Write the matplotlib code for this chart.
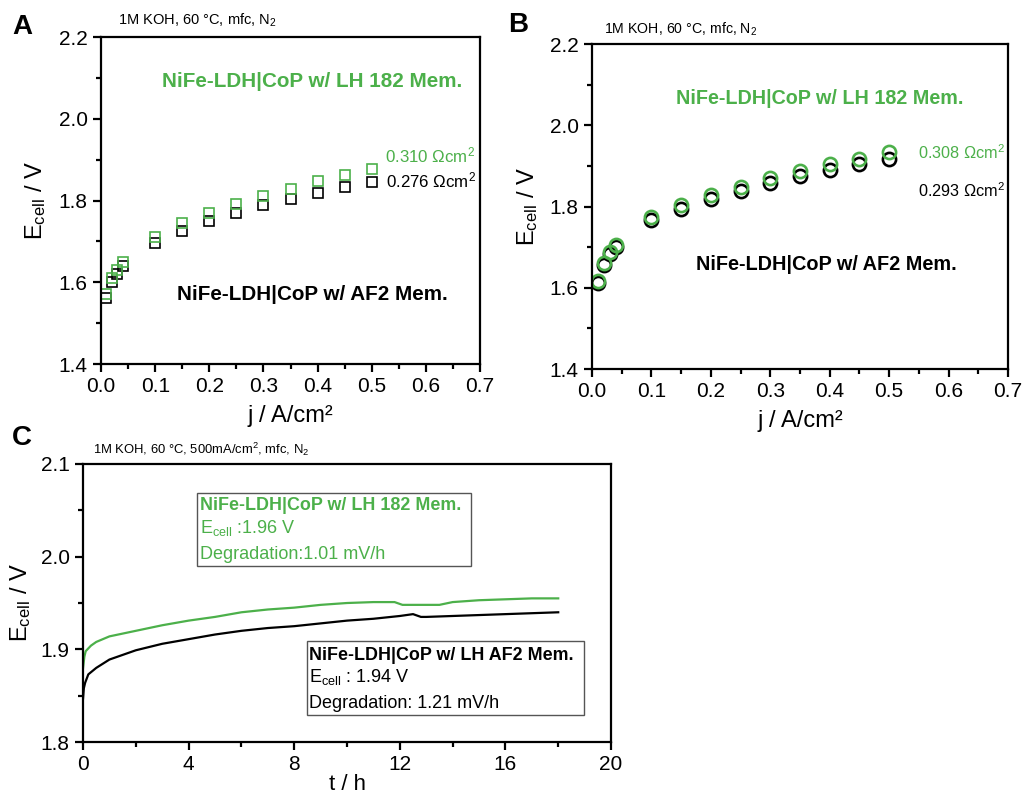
import matplotlib
matplotlib.use('Agg')
import matplotlib.pyplot as plt
from matplotlib.patches import Rectangle
from matplotlib.ticker import MultipleLocator

plt.rcParams['font.family'] = ['Liberation Sans', 'DejaVu Sans']
plt.rcParams['mathtext.fontset'] = 'custom'
plt.rcParams['mathtext.rm'] = 'Liberation Sans'
plt.rcParams['mathtext.it'] = 'Liberation Sans:italic'
plt.rcParams['mathtext.bf'] = 'Liberation Sans:bold'

GREEN = '#4CB04A'

# polarisation curves (panel A, square markers)
j_a = [0.01, 0.02, 0.03, 0.04, 0.1, 0.15, 0.2, 0.25, 0.3, 0.35, 0.4, 0.45, 0.5]
e_a_lh182 = [1.571, 1.611, 1.631, 1.649, 1.711, 1.744, 1.769, 1.792, 1.812, 1.829, 1.847, 1.862, 1.876]
e_a_af2 = [1.561, 1.600, 1.621, 1.640, 1.696, 1.726, 1.749, 1.769, 1.788, 1.804, 1.818, 1.832, 1.845]

# polarisation curves (panel B, circle markers)
j_b = [0.01, 0.02, 0.03, 0.04, 0.1, 0.15, 0.2, 0.25, 0.3, 0.35, 0.4, 0.45, 0.5]
e_b_lh182 = [1.617, 1.662, 1.687, 1.706, 1.773, 1.803, 1.828, 1.849, 1.869, 1.888, 1.904, 1.918, 1.933]
e_b_af2 = [1.612, 1.657, 1.682, 1.700, 1.766, 1.795, 1.818, 1.839, 1.858, 1.876, 1.891, 1.905, 1.918]

# stability test (panel C)
t_lh182 = [0, 0.05, 0.1, 0.3, 0.5, 1, 2, 3, 4, 5, 6, 7, 8, 9, 10, 11, 11.8, 12.1, 12.5, 13, 13.5, 14, 15, 16, 17, 18]
e_lh182 = [1.880, 1.892, 1.898, 1.904, 1.908, 1.914, 1.920, 1.926, 1.931, 1.935, 1.940, 1.943, 1.945,
           1.948, 1.950, 1.951, 1.951, 1.948, 1.948, 1.948, 1.948, 1.951, 1.953, 1.954, 1.955, 1.955]
t_af2 = [0, 0.03, 0.08, 0.2, 0.5, 1, 2, 3, 4, 5, 6, 7, 8, 9, 10, 11, 12, 12.5, 12.8, 13, 14, 15, 16, 17, 18]
e_af2 = [1.847, 1.858, 1.864, 1.873, 1.880, 1.889, 1.899, 1.906, 1.911, 1.916, 1.920, 1.923, 1.925,
         1.928, 1.931, 1.933, 1.936, 1.938, 1.935, 1.935, 1.936, 1.937, 1.938, 1.939, 1.940]


def style_axes(ax):
    for s in ax.spines.values():
        s.set_linewidth(1.6)
    ax.tick_params(which='both', direction='out', top=False, right=False, labelsize=15, width=1.6)
    ax.tick_params(which='major', length=6)
    ax.tick_params(which='minor', length=3.5)


fig = plt.figure(figsize=(10.29, 7.96), dpi=100)

# ---- A ----
axA = fig.add_axes([0.0982, 0.5427, 0.3683, 0.4108])
axA.plot(j_a, e_a_af2, 's', mfc='none', mec='black', ms=7.8, mew=1.2)
axA.plot(j_a, e_a_lh182, 's', mfc='none', mec=GREEN, ms=7.8, mew=1.2)
axA.set_xlim(0, 0.7)
axA.set_ylim(1.4, 2.2)
axA.xaxis.set_major_locator(MultipleLocator(0.1))
axA.xaxis.set_minor_locator(MultipleLocator(0.05))
axA.yaxis.set_major_locator(MultipleLocator(0.2))
axA.yaxis.set_minor_locator(MultipleLocator(0.1))
axA.xaxis.set_major_formatter(plt.FormatStrFormatter('%.1f'))
axA.yaxis.set_major_formatter(plt.FormatStrFormatter('%.1f'))
style_axes(axA)
axA.set_xlabel('j / A/cm²', fontsize=17, labelpad=6)
axA.set_ylabel(r'E$_{\mathrm{cell}}$ / V', fontsize=17, labelpad=8)
axA.text(0.113, 2.090, 'NiFe-LDH|CoP w/ LH 182 Mem.', color=GREEN, fontsize=14.9, fontweight='bold', va='center')
axA.text(0.524, 1.911, r'0.310 $\Omega$cm$^2$', color=GREEN, fontsize=12.2, va='center')
axA.text(0.526, 1.848, r'0.276 $\Omega$cm$^2$', color='black', fontsize=12.2, va='center')
axA.text(0.140, 1.569, 'NiFe-LDH|CoP w/ AF2 Mem.', color='black', fontsize=14.9, fontweight='bold', va='center')
axA.text(0.045, 1.025, r'1M KOH, 60 °C, mfc, N$_2$', transform=axA.transAxes, fontsize=10.5, va='bottom')
fig.text(0.012, 0.966, 'A', fontsize=20, fontweight='bold', va='center')

# ---- B ----
axB = fig.add_axes([0.5753, 0.5364, 0.4043, 0.4083])
axB.plot(j_b, e_b_af2, 'o', mfc='none', mec='black', ms=9.5, mew=1.9)
axB.plot(j_b, e_b_lh182, 'o', mfc='none', mec=GREEN, ms=9.5, mew=1.9)
axB.set_xlim(0, 0.7)
axB.set_ylim(1.4, 2.2)
axB.xaxis.set_major_locator(MultipleLocator(0.1))
axB.xaxis.set_minor_locator(MultipleLocator(0.05))
axB.yaxis.set_major_locator(MultipleLocator(0.2))
axB.yaxis.set_minor_locator(MultipleLocator(0.1))
axB.xaxis.set_major_formatter(plt.FormatStrFormatter('%.1f'))
axB.yaxis.set_major_formatter(plt.FormatStrFormatter('%.1f'))
style_axes(axB)
axB.set_xlabel('j / A/cm²', fontsize=17, labelpad=6)
axB.set_ylabel(r'E$_{\mathrm{cell}}$ / V', fontsize=17, labelpad=7)
axB.text(0.141, 2.067, 'NiFe-LDH|CoP w/ LH 182 Mem.', color=GREEN, fontsize=14.2, fontweight='bold', va='center')
axB.text(0.549, 1.932, r'0.308 $\Omega$cm$^2$', color=GREEN, fontsize=11.7, va='center')
axB.text(0.549, 1.839, r'0.293 $\Omega$cm$^2$', color='black', fontsize=11.7, va='center')
axB.text(0.175, 1.658, 'NiFe-LDH|CoP w/ AF2 Mem.', color='black', fontsize=14.3, fontweight='bold', va='center')
axB.text(0.03, 1.02, r'1M KOH, 60 °C, mfc, N$_2$', transform=axB.transAxes, fontsize=10.2, va='bottom')
fig.text(0.494, 0.969, 'B', fontsize=20, fontweight='bold', va='center')

# ---- C ----
axC = fig.add_axes([0.0807, 0.0678, 0.5131, 0.3493])
axC.plot(t_af2, e_af2, color='black', lw=1.6)
axC.plot(t_lh182, e_lh182, color=GREEN, lw=1.6)
axC.set_xlim(0, 20)
axC.set_ylim(1.8, 2.1)
axC.xaxis.set_major_locator(MultipleLocator(4))
axC.xaxis.set_minor_locator(MultipleLocator(2))
axC.yaxis.set_major_locator(MultipleLocator(0.1))
axC.yaxis.set_minor_locator(MultipleLocator(0.05))
axC.yaxis.set_major_formatter(plt.FormatStrFormatter('%.1f'))
style_axes(axC)
axC.set_xlabel('t / h', fontsize=16, labelpad=0)
axC.set_ylabel(r'E$_{\mathrm{cell}}$ / V', fontsize=17, labelpad=6)
axC.text(0.019, 1.02, r'1M KOH, 60 °C, 500mA/cm$^2$, mfc, N$_2$', transform=axC.transAxes, fontsize=9.4, va='bottom')
fig.text(0.012, 0.450, 'C', fontsize=20, fontweight='bold', va='center')

axC.add_patch(Rectangle((0.216, 0.633), 0.519, 0.263, transform=axC.transAxes,
                        fill=False, ec='#555555', lw=1))
axC.text(0.222, 0.849, 'NiFe-LDH|CoP w/ LH 182 Mem.', transform=axC.transAxes, color=GREEN,
         fontsize=12.9, fontweight='bold', va='center')
axC.text(0.222, 0.770, r'E$_{\mathrm{cell}}$ :1.96 V', transform=axC.transAxes, color=GREEN, fontsize=13, va='center')
axC.text(0.222, 0.676, 'Degradation:1.01 mV/h', transform=axC.transAxes, color=GREEN, fontsize=13, va='center')

axC.add_patch(Rectangle((0.424, 0.097), 0.525, 0.266, transform=axC.transAxes,
                        fill=False, ec='#555555', lw=1))
axC.text(0.428, 0.313, 'NiFe-LDH|CoP w/ LH AF2 Mem.', transform=axC.transAxes, color='black',
         fontsize=12.9, fontweight='bold', va='center')
axC.text(0.428, 0.234, r'E$_{\mathrm{cell}}$ : 1.94 V', transform=axC.transAxes, color='black', fontsize=13, va='center')
axC.text(0.428, 0.140, 'Degradation: 1.21 mV/h', transform=axC.transAxes, color='black', fontsize=13, va='center')

fig.savefig('out.png', dpi=100)
